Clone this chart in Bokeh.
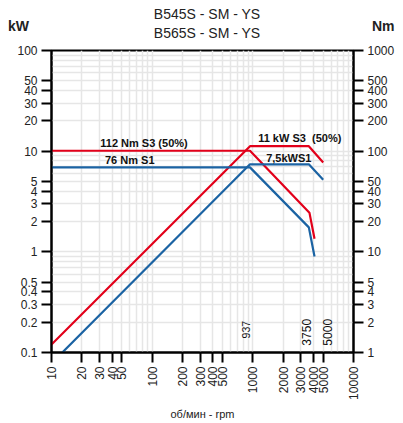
import math
from bokeh.plotting import figure
from bokeh.models import FixedTicker, LogAxis, Range1d, Label, LogScale, Div
from bokeh.layouts import column
from bokeh.embed import file_html
from bokeh.resources import INLINE

# ---- data ----
x_ticks = [10, 20, 30, 40, 50, 100, 200, 300, 400, 500, 1000, 2000, 3000, 4000, 5000, 10000]
x_tick_labels = ["10", "20", "30", "40", "50", "100", "200", "300", "400", "500",
                 "1000", "2000", "3000", "4000", "5000", "10000"]
kw_ticks = [0.1, 0.2, 0.3, 0.4, 0.5, 1, 2, 3, 4, 5, 10, 20, 30, 40, 50, 100]
kw_tick_labels = ["0.1", "0.2", "0.3", "0.4", "0.5", "1", "2", "3", "4", "5",
                  "10", "20", "30", "40", "50", "100"]
nm_ticks = [1, 2, 3, 4, 5, 10, 20, 30, 40, 50, 100, 200, 300, 400, 500, 1000]
nm_tick_labels = ["1", "2", "3", "4", "5", "10", "20", "30", "40", "50",
                  "100", "200", "300", "400", "500", "1000"]
grid_x = [m * d for d in (10, 100, 1000) for m in range(1, 10)] + [10000]
grid_kw = [m * d for d in (0.1, 1, 10) for m in range(1, 10)] + [100]

red_power_rpm = [10, 937, 3600, 5000]
red_power_kw = [0.12, 11.2, 11.2, 7.7]
red_torque_rpm = [10, 937, 3650, 4100]
red_torque_nm = [101, 101, 24.5, 13.5]
blue_power_rpm = [12.8, 937, 3600, 5000]
blue_power_kw = [0.1, 7.4, 7.4, 5.2]
blue_torque_rpm = [10, 937, 3600, 4100]
blue_torque_nm = [69, 69, 17.5, 9]

marks_rpm = [937, 3750, 5000]
marks_text = ["937", "3750", "5000"]

title_lines = ["B545S - SM - YS", "B565S - SM - YS"]
left_unit = "kW"
right_unit = "Nm"
x_title = "об/мин - rpm"

RED = "#e2001a"
BLUE = "#1b63a3"
FONT = "Liberation Sans"

p = figure(width=400, height=382, x_axis_type="log", y_axis_type="log",
           x_range=Range1d(10, 10000), y_range=Range1d(0.1, 100),
           output_backend="svg", toolbar_location=None,
           min_border_left=51, min_border_right=47, min_border_top=10, min_border_bottom=68)
p.extra_y_ranges = {"nm": Range1d(1, 1000)}
p.extra_y_scales = {"nm": LogScale()}
p.outline_line_color = "black"
p.outline_line_width = 2
p.background_fill_color = "white"
p.border_fill_color = "white"

def style_axis(ax, ticks, labels):
    ax.ticker = FixedTicker(ticks=ticks)
    ax.major_label_overrides = {t: l for t, l in zip(ticks, labels)}
    ax.axis_line_color = "black"
    ax.axis_line_width = 2
    ax.major_tick_line_color = "black"
    ax.major_tick_line_width = 2
    ax.major_tick_out = 10
    ax.major_tick_in = 0
    ax.minor_tick_line_color = None
    ax.major_label_text_font = FONT
    ax.major_label_text_font_size = "12px"
    ax.major_label_text_color = "#222222"
    ax.major_label_standoff = 4

style_axis(p.xaxis[0], x_ticks, x_tick_labels)
p.xaxis[0].major_label_orientation = math.pi / 2
p.xaxis[0].axis_label = x_title
p.xaxis[0].axis_label_text_font = FONT
p.xaxis[0].axis_label_text_font_size = "11px"
p.xaxis[0].axis_label_text_font_style = "normal"
p.xaxis[0].axis_label_text_color = "#222222"
p.xaxis[0].axis_label_standoff = 5
style_axis(p.yaxis[0], kw_ticks, kw_tick_labels)
right = LogAxis(y_range_name="nm")
style_axis(right, nm_ticks, nm_tick_labels)
p.add_layout(right, "right")

p.xgrid.ticker = FixedTicker(ticks=grid_x)
p.ygrid.ticker = FixedTicker(ticks=grid_kw)
for g in (p.xgrid, p.ygrid):
    g.grid_line_color = "#e6e6e6"
    g.grid_line_width = 1.5

p.line(red_torque_rpm, red_torque_nm, y_range_name="nm", line_color=RED, line_width=2.2)
p.line(red_power_rpm, red_power_kw, line_color=RED, line_width=2.2)
p.line(blue_torque_rpm, blue_torque_nm, y_range_name="nm", line_color=BLUE, line_width=2.2)
p.line(blue_power_rpm, blue_power_kw, line_color=BLUE, line_width=2.2)

def lab(x, y, text, size="11px", bold=False, align="left", baseline="middle", angle=0.0,
        color="#111111"):
    p.add_layout(Label(x=x, y=y, text=text, text_font=FONT, text_font_size=size,
                       text_font_style="bold" if bold else "normal", text_align=align,
                       text_baseline=baseline, angle=angle, text_color=color))

lab(30.5, 12.0, "112 Nm S3 (50%)", bold=True)
lab(34, 8.1, "76 Nm S1", bold=True)
lab(1130, 13.4, "11 kW S3\u00a0\u00a0(50%)", bold=True)
lab(1356, 8.6, "7,5kWS1", bold=True)
lab(marks_rpm[0], 0.138, marks_text[0], size="10.5px", baseline="bottom", angle=math.pi / 2)
lab(marks_rpm[1], 0.117, marks_text[1], size="12px", baseline="bottom", angle=math.pi / 2)
lab(marks_rpm[2], 0.117, marks_text[2], size="12px", baseline="top", angle=math.pi / 2)

header_html = (
    '<div style="position:relative;width:400px;height:40px;font-family:\'Liberation Sans\';color:#222;">'
    '<span style="position:absolute;left:8px;top:18px;font-size:14px;line-height:16px;font-weight:bold;">%s</span>'
    '<div style="position:absolute;left:0px;width:414px;top:5px;text-align:center;font-size:14px;line-height:19px;">%s<br>%s</div>'
    '<span style="position:absolute;left:372px;top:18px;font-size:14px;line-height:16px;font-weight:bold;">%s</span>'
    '</div>'
) % (left_unit, title_lines[0], title_lines[1], right_unit)
header = Div(text=header_html, width=400, height=40, margin=0)

layout = column(header, p, spacing=0)
open("out.html", "w").write(file_html(layout, INLINE))
